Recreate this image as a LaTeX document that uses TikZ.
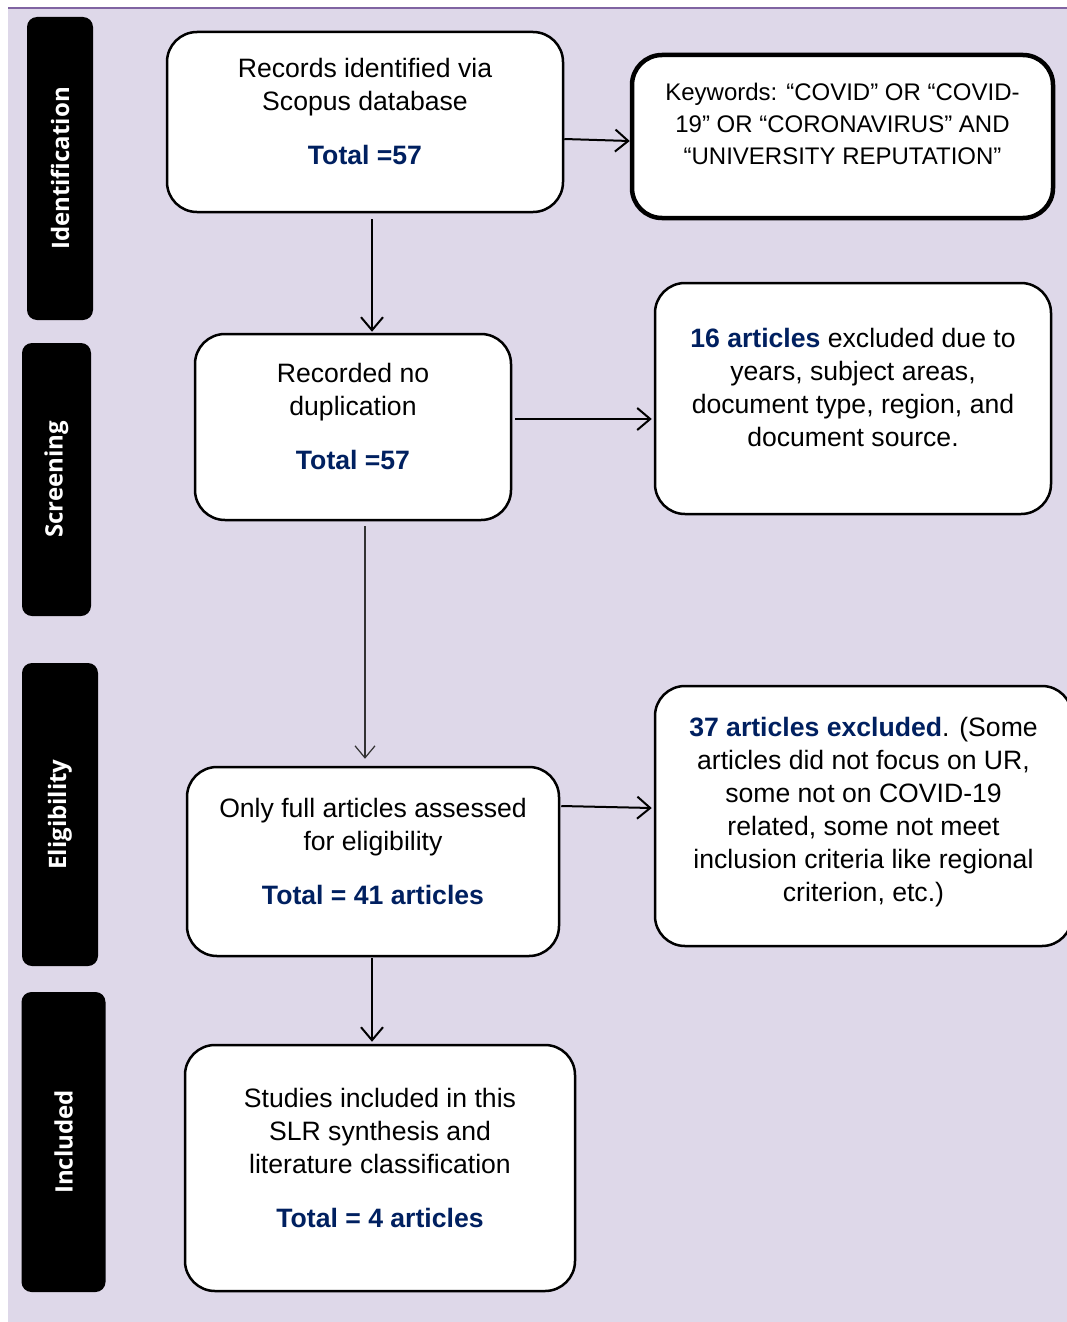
\documentclass[tikz,border=0pt]{standalone}
\usepackage{fontspec}
\setmainfont{Liberation Sans}
\newfontfamily\tabfont{Open Sans}
\usetikzlibrary{arrows.meta,calc}
\definecolor{lilac}{RGB}{222,216,233}
\definecolor{plum}{RGB}{128,100,162}
\definecolor{navy}{RGB}{0,32,96}
\newcommand\hl[1]{\textcolor{navy}{\bfseries #1}}
\tikzset{
  >={Straight Barb[length=13pt,width=22pt,line width=2pt]},
  stage/.style={fill=black,rounded corners=10pt,text=white,rotate=90,
    font=\tabfont\bfseries\fontsize{24}{26}\selectfont},
  box/.style={draw=black,line width=2.5pt,fill=white,rounded corners=30pt,
    align=center,font=\fontsize{26.6}{33}\selectfont,text depth=21pt},
  flow/.style={->,line width=2pt},
  thin flow/.style={-{Straight Barb[length=12pt,width=20pt,line width=1.2pt]},line width=1.3pt,draw=black!80},
}
\begin{document}
\begin{tikzpicture}[x=1pt,y=-1pt]
  \useasboundingbox (0,0) rectangle (1067,1322);
  \fill[lilac] (8,8) rectangle (1067,1322);
  \draw[plum,line width=2pt] (8,8) -- (1067,8);
  % stage tabs on the left
  \foreach \i/\x/\y/\w/\h/\t in {1/60/168.5/66/303/Identification,
      2/56.5/479.5/69/273/Screening,3/60/814.5/76/303/Eligibility,
      4/63.5/1142/84/300/Included}
    \node[stage,minimum width=\h pt,minimum height=\w pt] (tab\i) at (\x,\y) {\t};
  % main column
  \node[box,minimum width=396pt,minimum height=180pt] (rec) at (365,122)
    {Records identified via\\Scopus database\\[21pt]\hl{Total =57}};
  \node[box,minimum width=316pt,minimum height=186pt] (nodup) at (353,427)
    {Recorded no\\duplication\\[21pt]\hl{Total =57}};
  \node[box,minimum width=372pt,minimum height=189pt] (full) at (373,861.5)
    {Only full articles assessed\\for eligibility\\[21pt]\hl{Total = 41 articles}};
  \node[box,minimum width=390pt,minimum height=246pt] (incl) at (380,1168)
    {Studies included in this\\SLR synthesis and\\literature classification\\[21pt]\hl{Total = 4 articles}};
  % right column
  \node[box,line width=4.5pt,minimum width=421pt,minimum height=163pt,
    font=\fontsize{24}{32}\selectfont,text depth=25pt] (kw) at (842.5,136.5)
    {Keywords: “COVID” OR “COVID-\\19” OR “CORONAVIRUS” AND\\“UNIVERSITY REPUTATION”};
  \node[box,minimum width=396pt,minimum height=231pt,text depth=22pt] (ex1) at (853,398.5)
    {\hl{16 articles} excluded due to\\years, subject areas,\\document type, region, and\\document source.};
  \node[box,minimum width=417pt,minimum height=260pt,text depth=14pt] (ex2) at (863.5,816)
    {\hl{37 articles excluded}. (Some\\articles did not focus on UR,\\some not on COVID-19\\related, some not meet\\inclusion criteria like regional\\criterion, etc.)};
  % connectors
  \draw[flow] ($(rec.east)+(0,17)$) -- ($(kw.west)+(0,4.5)$);
  \draw[flow] ($(rec.south)+(7,6)$) -- ($(nodup.north)+(19,-1)$);
  \draw[flow] ($(nodup.east)+(3,-8)$) -- ($(ex1.west)+(-2,20.5)$);
  \draw[thin flow] ($(nodup.south)+(12,5)$) -- ($(full.north)+(-8,-7)$);
  \draw[flow] ($(full.east)+(1,-55.5)$) -- ($(ex2.west)+(-2,-8)$);
  \draw[flow] ($(full.south)+(-1,1)$) -- ($(incl.north)+(-8,-2)$);
\end{tikzpicture}
\end{document}
